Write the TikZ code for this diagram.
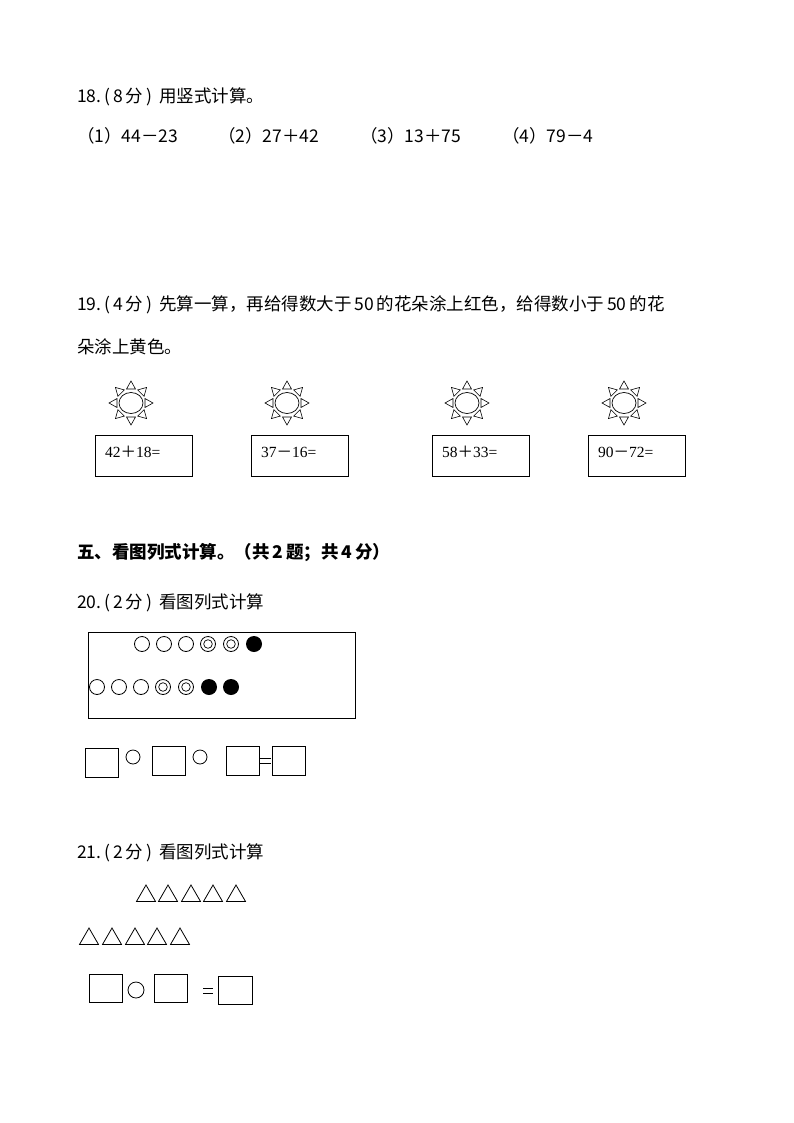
\documentclass[tikz,border=0pt]{standalone}
\usepackage{fontspec}
\setmainfont{Carlito}
\newfontfamily\cjk{Noto Sans CJK SC}
\newfontfamily\ser{Liberation Serif}
\usetikzlibrary{shapes.geometric}
\begin{document}
\begin{tikzpicture}[x=1pt,y=-1pt,
  txt/.style={anchor=base west,inner sep=0pt,font=\cjk\fontsize{17.5}{20}\selectfont},
  bx/.style={draw,line width=0.8pt},
  ring/.style={draw,line width=0.8pt,circle,minimum size=15pt,inner sep=0pt},
  tri/.style={draw,line width=0.8pt,regular polygon,regular polygon sides=3,minimum size=22pt,inner sep=0pt},
  ex/.style={anchor=base west,inner sep=0pt,font=\ser\fontsize{15.5}{18}\selectfont}]
\useasboundingbox (0,0) rectangle (794,1123);
\node[txt] (t18) at (77,103) {18.\,(\,8\,分\,)\, 用竖式计算。};
\node[txt] (r1) at (77,143) {（1）44－23};
\node[txt] (r2) at (218,143) {（2）27＋42};
\node[txt] (r3) at (360,143) {（3）13＋75};
\node[txt] (r4) at (502,143) {（4）79－4};
\node[txt] (t19) at (77,310) {19.\,(\,4\,分\,)\, 先算一算，再给得数大于\,50\,的花朵涂上红色，给得数小于\,50\,的花};
\node[txt] (t19b) at (77,353) {朵涂上黄色。};
\foreach \cx/\n in {131/a,287/b,467/c,624/d}{
  \draw[line width=0.7pt] (\cx,403) ellipse (12 and 10.5);
  \foreach \ang in {0,45,...,315}{
    \draw[line width=0.6pt,shift={(\cx,403)},rotate=\ang] (14,-4.5) -- (14,4.5) -- (22,0) -- cycle;
  }
}
\foreach \x/\a/\o/\b/\n in {95/42/＋/18/a,251/37/－/16/b,432/58/＋/33/c,588/90/－/72/d}{
  \draw[bx] (\x,435) rectangle (\x+97,476);
  \node[ex] (e\n) at (\x+10,457) {\a{\cjk\o}\b=};
}
\node[txt,font=\cjk\bfseries\fontsize{17.5}{20}\selectfont] (sec) at (77,558) {五、看图列式计算。（共\,2\,题；共\,4\,分）};
\node[txt] (t20) at (77,608) {20.\,(\,2\,分\,)\, 看图列式计算};
\draw[bx] (88,632) rectangle (355,718);
\foreach \x/\k in {142/0,164/0,186/0,208/1,231/1,254/2}{
  \ifcase\k \node[ring] at (\x,644) {};
  \or \node[ring] at (\x,644) {}; \draw[line width=0.7pt] (\x,644) circle (4.3);
  \or \fill (\x,644) circle (8);\fi}
\foreach \x/\k in {97/0,119/0,141/0,163/1,186/1,209/2,231/2}{
  \ifcase\k \node[ring] at (\x,687) {};
  \or \node[ring] at (\x,687) {}; \draw[line width=0.7pt] (\x,687) circle (4.3);
  \or \fill (\x,687) circle (8);\fi}
\draw[bx] (85,748) rectangle (118,777);
\draw[bx] (152,746) rectangle (185,775);
\draw[bx] (226,746) rectangle (259,775);
\draw[bx] (272,746) rectangle (305,775);
\node[ring,minimum size=14pt] (c1) at (133,757) {};
\node[ring,minimum size=14pt] (c2) at (200,757) {};
\draw[line width=0.7pt] (260,758) -- (271,758) (260,763) -- (271,763);
\node[txt] (t21) at (77,858) {21.\,(\,2\,分\,)\, 看图列式计算};
\foreach \x in {146,168,191,213,236}{\node[tri] at (\x,896) {};}
\foreach \x in {89,112,135,157,180}{\node[tri] at (\x,939) {};}
\draw[bx] (89,974) rectangle (122,1002);
\draw[bx] (154,974) rectangle (187,1002);
\draw[bx] (218,976) rectangle (252,1004);
\node[ring,minimum size=16pt] (c3) at (136,990) {};
\draw[line width=0.7pt] (203,988) -- (213,988) (203,993) -- (213,993);
\end{tikzpicture}
\end{document}
